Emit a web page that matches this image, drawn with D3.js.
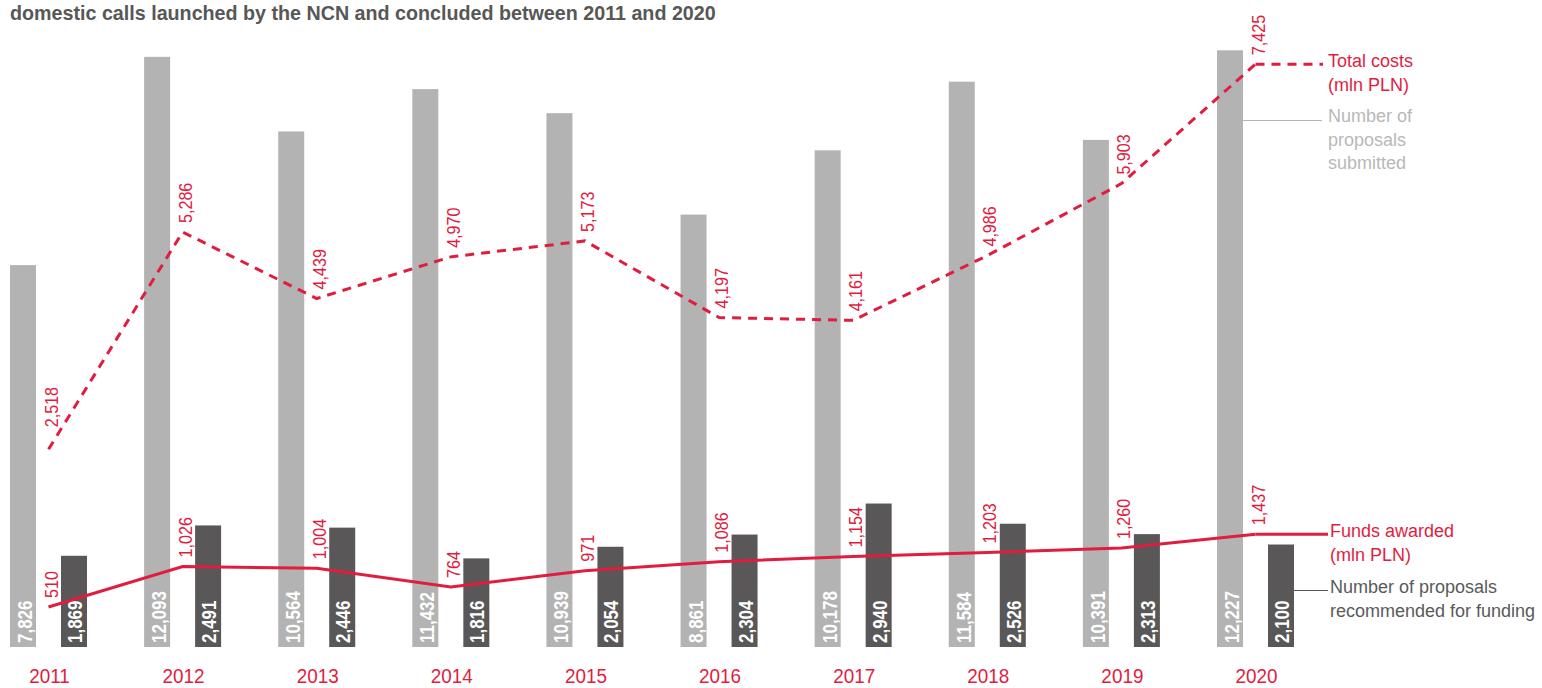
<!DOCTYPE html>
<html>
<head>
<meta charset="utf-8">
<script src="https://cdn.jsdelivr.net/npm/d3@7"></script>
<style>
  body { margin: 0; background: #fff; }
  svg text { font-family: "Liberation Sans", Arial, sans-serif; }
</style>
</head>
<body>
<div id="chart"></div>
<script>
// data
let years = [2011, 2012, 2013, 2014, 2015, 2016, 2017, 2018, 2019, 2020];
let submitted = [7826, 12093, 10564, 11432, 10939, 8861, 10178, 11584, 10391, 12227];
let recommended = [1869, 2491, 2446, 1816, 2054, 2304, 2940, 2526, 2313, 2100];
let total_costs = [2518, 5286, 4439, 4970, 5173, 4197, 4161, 4986, 5903, 7425];
let funds_awarded = [510, 1026, 1004, 764, 971, 1086, 1154, 1203, 1260, 1437];

let width_svg = 1542;
let height_svg = 688;

let red = "#e11d3f";
let light = "#b3b3b3";
let dark = "#595757";

// the original uses a narrow DIN-like face; squeeze the text a little
let squeeze = 0.85;

let svg = d3.select("#chart")
            .append("svg")
            .attr("width", width_svg)
            .attr("height", height_svg);

//==========================================================
// scales
let x = d3.scalePoint()
          .domain(years)
          .range([48.5, 1255.5]);

let bottom = 647;
let y_bars = d3.scaleLinear()
               .domain([0, 13258])
               .range([bottom, 0]);

let y_lines = d3.scaleLinear()
                .domain([0, 8242])
                .range([bottom, 0]);

let bar_w = 26;
let fmt = d3.format(",");

//==========================================================
// title
svg.append("text")
   .attr("x", 10)
   .attr("y", 20)
   .attr("fill", "#575757")
   .attr("font-weight", "bold")
   .attr("font-size", 19.7)
   .text("domestic calls launched by the NCN and concluded between 2011 and 2020");

//==========================================================
// bars
let rows = years.map((yr, i) => ({
    year: yr,
    sub: submitted[i],
    rec: recommended[i],
    cost: total_costs[i],
    fund: funds_awarded[i]
}));

let bars = svg.append("g");

bars.selectAll(".bar-sub")
    .data(rows)
    .enter()
    .append("rect")
    .attr("x", d => x(d.year) - 38.5)
    .attr("y", d => y_bars(d.sub))
    .attr("width", bar_w)
    .attr("height", d => bottom - y_bars(d.sub))
    .attr("fill", light);

bars.selectAll(".bar-rec")
    .data(rows)
    .enter()
    .append("rect")
    .attr("x", d => x(d.year) + 12.5)
    .attr("y", d => y_bars(d.rec))
    .attr("width", bar_w)
    .attr("height", d => bottom - y_bars(d.rec))
    .attr("fill", dark);

//==========================================================
// lines
let cost_line = d3.line()
                  .x(d => x(d.year))
                  .y(d => y_lines(d.cost));

let fund_line = d3.line()
                  .x(d => x(d.year))
                  .y(d => y_lines(d.fund));

let last = rows[rows.length - 1];

svg.append("path")
   .datum(rows)
   .attr("d", cost_line)
   .attr("fill", "none")
   .attr("stroke", red)
   .attr("stroke-width", 3)
   .attr("stroke-dasharray", "9,7");

svg.append("line")
   .attr("x1", x(last.year))
   .attr("x2", 1323)
   .attr("y1", y_lines(last.cost))
   .attr("y2", y_lines(last.cost))
   .attr("stroke", red)
   .attr("stroke-width", 3)
   .attr("stroke-dasharray", "9,7");

svg.append("path")
   .datum(rows)
   .attr("d", fund_line)
   .attr("fill", "none")
   .attr("stroke", red)
   .attr("stroke-width", 3);

svg.append("line")
   .attr("x1", x(last.year))
   .attr("x2", 1328)
   .attr("y1", y_lines(last.fund))
   .attr("y2", y_lines(last.fund))
   .attr("stroke", red)
   .attr("stroke-width", 3);

//==========================================================
// white values inside bars
bars.selectAll(".lab-sub")
    .data(rows)
    .enter()
    .append("text")
    .attr("transform", d => `translate(${x(d.year) - 25.5 + 9}, ${bottom - 4}) rotate(-90) scale(${squeeze},1)`)
    .attr("fill", "#fff")
    .attr("font-weight", "bold")
    .attr("font-size", 20)
    .text(d => fmt(d.sub));

bars.selectAll(".lab-rec")
    .data(rows)
    .enter()
    .append("text")
    .attr("transform", d => `translate(${x(d.year) + 25.5 + 8}, ${bottom - 4}) rotate(-90) scale(${squeeze},1)`)
    .attr("fill", "#fff")
    .attr("font-weight", "bold")
    .attr("font-size", 20)
    .text(d => fmt(d.rec));

// red value labels (the first cost label sits higher, clear of the steep line)
svg.selectAll(".lab-cost")
   .data(rows)
   .enter()
   .append("text")
   .attr("transform", (d, i) => `translate(${x(d.year) + 9}, ${y_lines(d.cost) - (i === 0 ? 22 : 9)}) rotate(-90) scale(${squeeze},1)`)
   .attr("fill", red)
   .attr("font-size", 19)
   .text(d => fmt(d.cost));

svg.selectAll(".lab-fund")
   .data(rows)
   .enter()
   .append("text")
   .attr("transform", d => `translate(${x(d.year) + 9}, ${y_lines(d.fund) - 9}) rotate(-90) scale(${squeeze},1)`)
   .attr("fill", red)
   .attr("font-size", 19)
   .text(d => fmt(d.fund));

//==========================================================
// year labels
svg.selectAll(".year")
   .data(rows)
   .enter()
   .append("text")
   .attr("transform", d => `translate(${x(d.year) + 1}, 683) scale(0.9,1)`)
   .attr("text-anchor", "middle")
   .attr("fill", red)
   .attr("font-size", 21)
   .text(d => d.year);

//==========================================================
// legend notes on the right
function note(lines, x0, y0, color) {
    let t = svg.append("text")
               .attr("x", x0)
               .attr("y", y0)
               .attr("fill", color)
               .attr("font-size", 18);
    lines.forEach((l, i) => {
        t.append("tspan")
         .attr("x", x0)
         .attr("dy", i === 0 ? 0 : 23.5)
         .text(l);
    });
}

note(["Total costs", "(mln PLN)"], 1328, y_lines(last.cost) + 3, red);
note(["Funds awarded", "(mln PLN)"], 1330, y_lines(last.fund) + 3, red);

svg.append("line")
   .attr("x1", x(last.year) - 12.5)
   .attr("x2", 1322)
   .attr("y1", 120.5)
   .attr("y2", 120.5)
   .attr("stroke", light)
   .attr("stroke-width", 1);
note(["Number of", "proposals", "submitted"], 1328, 122, "#b8b8b8");

svg.append("line")
   .attr("x1", x(last.year) + 38.5)
   .attr("x2", 1328)
   .attr("y1", 590.5)
   .attr("y2", 590.5)
   .attr("stroke", dark)
   .attr("stroke-width", 1);
note(["Number of proposals", "recommended for funding"], 1330, 593, "#5a5a5a");
</script>
</body>
</html>
